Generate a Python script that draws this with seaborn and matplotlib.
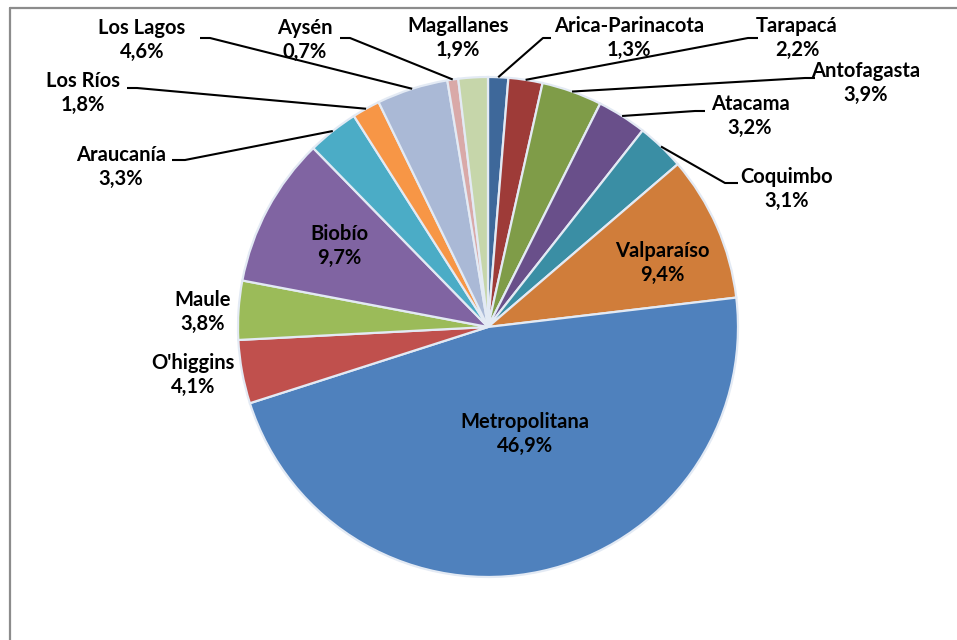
import numpy as np
import matplotlib
matplotlib.use("Agg")
import matplotlib.pyplot as plt
from matplotlib.lines import Line2D
import seaborn as sns

# Share of each region (percent)
regions = ["Arica-Parinacota", "Tarapacá", "Antofagasta", "Atacama", "Coquimbo",
           "Valparaíso", "Metropolitana", "O'higgins", "Maule", "Biobío",
           "Araucanía", "Los Ríos", "Los Lagos", "Aysén", "Magallanes"]
shares = [1.3, 2.2, 3.9, 3.2, 3.1, 9.4, 46.9, 4.1, 3.8, 9.7, 3.3, 1.8, 4.6, 0.7, 1.9]

colors = ["#3E689A", "#9E3B38", "#7F9C48", "#694F8A", "#3A8EA4", "#D07D3A",
          "#4F81BD", "#C0504D", "#9BBB59", "#8064A2", "#4BACC6", "#F79646",
          "#AAB9D6", "#D9A9A8", "#C6D6AA"]

sns.set_theme(style="white")
plt.rcParams["font.family"] = ["Lato", "DejaVu Sans"]

W, H = 957, 640
fig = plt.figure(figsize=(W / 100, H / 100), dpi=100)
ax = fig.add_axes([0, 0, 1, 1])

cx, cy, r = 488, 327, 250
# y axis is inverted, so counter-clockwise in data space runs clockwise on screen
ax.pie(shares, colors=colors, center=(cx, cy), radius=r, startangle=-90,
       counterclock=True,
       wedgeprops=dict(edgecolor="#E3EAF4", linewidth=1.6))
ax.set_xlim(0, W)
ax.set_ylim(H, 0)
ax.set_aspect("equal")
ax.axis("off")

# label placement: block centre and leader-line bends (screen pixels)
layout = {
    "Arica-Parinacota": ((629, 38), [(543, 38), (551, 38)]),
    "Tarapacá": ((797, 38), [(748, 38), (758, 38)]),
    "Antofagasta": ((866, 83), [(805, 78), (815, 78)]),
    "Atacama": ((750, 116), [(695, 111), (705, 111)]),
    "Coquimbo": ((787, 189), [(725, 183), (738, 183)]),
    "Valparaíso": ((662, 263), None),
    "Metropolitana": ((525, 434), None),
    "O'higgins": ((193, 375), None),
    "Maule": ((203, 312), None),
    "Biobío": ((339, 246), None),
    "Araucanía": ((121, 167), [(185, 160), (172, 160)]),
    "Los Ríos": ((83, 93), [(137, 88), (127, 88)]),
    "Los Lagos": ((142, 40), [(210, 38), (200, 38)]),
    "Aysén": ((305, 40), [(350, 38), (340, 38)]),
    "Magallanes": ((458, 38), None),
}

total = sum(shares)
cum = 0.0
for name, val in zip(regions, shares):
    frac = (cum + val / 2) / total
    cum += val
    theta = 2 * np.pi * frac
    ax_x = cx + r * np.sin(theta)
    ax_y = cy - r * np.cos(theta)
    (tx, ty), bends = layout[name]
    if bends:
        xs = [ax_x] + [p[0] for p in bends]
        ys = [ax_y] + [p[1] for p in bends]
        ax.plot(xs, ys, color="black", lw=1.5, solid_capstyle="butt", zorder=3)
    pct = f"{val:.1f}".replace(".", ",") + "%"
    ax.text(tx, ty, f"{name}\n{pct}", ha="center", va="center",
            fontsize=14.5, fontweight="bold", color="black",
            linespacing=1.25, zorder=4)

# outer chart frame (left and top edges)
fig.add_artist(Line2D([9.5 / W, 9.5 / W], [0, 1 - 8 / H], transform=fig.transFigure,
                      color="#8C8C8C", lw=1.6))
fig.add_artist(Line2D([9.5 / W, 1], [1 - 8 / H, 1 - 8 / H], transform=fig.transFigure,
                      color="#8C8C8C", lw=1.6))

fig.savefig("out.png", dpi=100, facecolor="white")
